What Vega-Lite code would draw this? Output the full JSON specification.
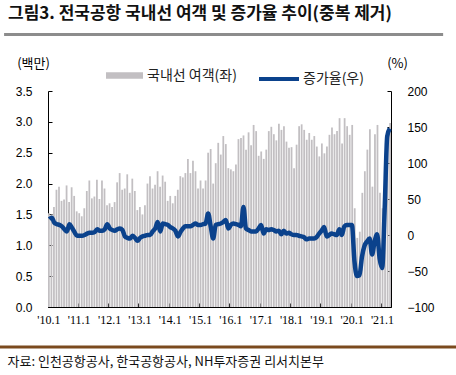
{
  "$schema": "https://vega.github.io/schema/vega-lite/v6.json",
  "width": 343,
  "height": 216,
  "autosize": {"type": "none"},
  "padding": {"left": 48, "top": 91, "right": 65, "bottom": 68},
  "background": "white",
  "title": {
    "text": "그림3. 전국공항 국내선 여객 및 증가율 추이(중복 제거)",
    "anchor": "start",
    "frame": "group",
    "dx": -40,
    "offset": 10,
    "font": "Noto Sans CJK KR",
    "fontSize": 17,
    "fontWeight": "bold",
    "color": "#111111"
  },
  "config": {
    "view": {"stroke": null},
    "axis": {
      "labelFont": "Liberation Sans",
      "labelFontSize": 12,
      "labelColor": "#000000",
      "domainColor": "#000000",
      "tickColor": "#000000",
      "grid": false,
      "titleFont": "Noto Sans CJK KR",
      "titleFontSize": 13,
      "titleFontWeight": "normal",
      "titleColor": "#000000"
    },
    "legend": {
      "labelFont": "Noto Sans CJK KR",
      "labelFontSize": 14,
      "labelColor": "#222222"
    }
  },
  "datasets": {
    "series": [
      {"ym": "2010-01", "pax": 1.52, "growth": 22},
      {"ym": "2010-02", "pax": 1.50, "growth": 24},
      {"ym": "2010-03", "pax": 1.62, "growth": 17},
      {"ym": "2010-04", "pax": 1.90, "growth": 15},
      {"ym": "2010-05", "pax": 1.95, "growth": 14},
      {"ym": "2010-06", "pax": 1.72, "growth": 12},
      {"ym": "2010-07", "pax": 1.74, "growth": 8},
      {"ym": "2010-08", "pax": 1.97, "growth": 5},
      {"ym": "2010-09", "pax": 1.70, "growth": 15},
      {"ym": "2010-10", "pax": 1.94, "growth": 10},
      {"ym": "2010-11", "pax": 1.80, "growth": 4},
      {"ym": "2010-12", "pax": 1.55, "growth": -1},
      {"ym": "2011-01", "pax": 1.52, "growth": -1},
      {"ym": "2011-02", "pax": 1.47, "growth": -1},
      {"ym": "2011-03", "pax": 1.60, "growth": 0},
      {"ym": "2011-04", "pax": 1.88, "growth": 2},
      {"ym": "2011-05", "pax": 2.05, "growth": 3},
      {"ym": "2011-06", "pax": 1.76, "growth": 3},
      {"ym": "2011-07", "pax": 1.79, "growth": 4},
      {"ym": "2011-08", "pax": 2.06, "growth": 8},
      {"ym": "2011-09", "pax": 1.75, "growth": 6},
      {"ym": "2011-10", "pax": 2.05, "growth": 6},
      {"ym": "2011-11", "pax": 1.92, "growth": 8},
      {"ym": "2011-12", "pax": 1.65, "growth": 15},
      {"ym": "2012-01", "pax": 1.68, "growth": 9},
      {"ym": "2012-02", "pax": 1.62, "growth": 7},
      {"ym": "2012-03", "pax": 1.70, "growth": 6},
      {"ym": "2012-04", "pax": 2.02, "growth": 8},
      {"ym": "2012-05", "pax": 2.17, "growth": 9},
      {"ym": "2012-06", "pax": 1.90, "growth": 7},
      {"ym": "2012-07", "pax": 1.92, "growth": -2},
      {"ym": "2012-08", "pax": 2.15, "growth": -4},
      {"ym": "2012-09", "pax": 1.85, "growth": -5},
      {"ym": "2012-10", "pax": 2.08, "growth": -1},
      {"ym": "2012-11", "pax": 1.88, "growth": -4},
      {"ym": "2012-12", "pax": 1.57, "growth": -8},
      {"ym": "2013-01", "pax": 1.62, "growth": -4},
      {"ym": "2013-02", "pax": 1.50, "growth": -2},
      {"ym": "2013-03", "pax": 1.65, "growth": -1},
      {"ym": "2013-04", "pax": 2.00, "growth": 0},
      {"ym": "2013-05", "pax": 2.12, "growth": 0},
      {"ym": "2013-06", "pax": 1.92, "growth": 5},
      {"ym": "2013-07", "pax": 1.98, "growth": 9},
      {"ym": "2013-08", "pax": 2.20, "growth": 18},
      {"ym": "2013-09", "pax": 1.95, "growth": 5},
      {"ym": "2013-10", "pax": 2.13, "growth": 16},
      {"ym": "2013-11", "pax": 2.03, "growth": 15},
      {"ym": "2013-12", "pax": 1.72, "growth": 14},
      {"ym": "2014-01", "pax": 1.80, "growth": 11},
      {"ym": "2014-02", "pax": 1.68, "growth": 9},
      {"ym": "2014-03", "pax": 1.80, "growth": 6},
      {"ym": "2014-04", "pax": 1.90, "growth": -2},
      {"ym": "2014-05", "pax": 2.12, "growth": 4},
      {"ym": "2014-06", "pax": 2.10, "growth": 9},
      {"ym": "2014-07", "pax": 2.17, "growth": 12},
      {"ym": "2014-08", "pax": 2.40, "growth": 12},
      {"ym": "2014-09", "pax": 2.17, "growth": 12},
      {"ym": "2014-10", "pax": 2.37, "growth": 14},
      {"ym": "2014-11", "pax": 2.20, "growth": 16},
      {"ym": "2014-12", "pax": 1.92, "growth": 14},
      {"ym": "2015-01", "pax": 2.05, "growth": 14},
      {"ym": "2015-02", "pax": 1.92, "growth": 15},
      {"ym": "2015-03", "pax": 2.05, "growth": 16},
      {"ym": "2015-04", "pax": 2.50, "growth": 30},
      {"ym": "2015-05", "pax": 2.56, "growth": 12},
      {"ym": "2015-06", "pax": 2.00, "growth": -5},
      {"ym": "2015-07", "pax": 2.33, "growth": 14},
      {"ym": "2015-08", "pax": 2.66, "growth": 15},
      {"ym": "2015-09", "pax": 2.47, "growth": 16},
      {"ym": "2015-10", "pax": 2.77, "growth": 18},
      {"ym": "2015-11", "pax": 2.64, "growth": 21},
      {"ym": "2015-12", "pax": 2.25, "growth": 9},
      {"ym": "2016-01", "pax": 2.23, "growth": 14},
      {"ym": "2016-02", "pax": 2.20, "growth": 16},
      {"ym": "2016-03", "pax": 2.31, "growth": 15},
      {"ym": "2016-04", "pax": 2.72, "growth": 14},
      {"ym": "2016-05", "pax": 2.74, "growth": 12},
      {"ym": "2016-06", "pax": 2.78, "growth": 39},
      {"ym": "2016-07", "pax": 2.55, "growth": 9},
      {"ym": "2016-08", "pax": 2.83, "growth": 7},
      {"ym": "2016-09", "pax": 2.62, "growth": 5},
      {"ym": "2016-10", "pax": 2.95, "growth": 5},
      {"ym": "2016-11", "pax": 2.85, "growth": 5},
      {"ym": "2016-12", "pax": 2.45, "growth": 9},
      {"ym": "2017-01", "pax": 2.52, "growth": 14},
      {"ym": "2017-02", "pax": 2.40, "growth": 2},
      {"ym": "2017-03", "pax": 2.55, "growth": 8},
      {"ym": "2017-04", "pax": 2.85, "growth": 7},
      {"ym": "2017-05", "pax": 2.92, "growth": 8},
      {"ym": "2017-06", "pax": 2.80, "growth": 7},
      {"ym": "2017-07", "pax": 2.70, "growth": 5},
      {"ym": "2017-08", "pax": 2.97, "growth": 6},
      {"ym": "2017-09", "pax": 2.87, "growth": 1},
      {"ym": "2017-10", "pax": 2.93, "growth": 6},
      {"ym": "2017-11", "pax": 2.68, "growth": 2},
      {"ym": "2017-12", "pax": 2.58, "growth": 3},
      {"ym": "2018-01", "pax": 2.59, "growth": 1},
      {"ym": "2018-02", "pax": 2.25, "growth": 0},
      {"ym": "2018-03", "pax": 2.63, "growth": 0},
      {"ym": "2018-04", "pax": 2.93, "growth": -1},
      {"ym": "2018-05", "pax": 2.96, "growth": -2},
      {"ym": "2018-06", "pax": 2.87, "growth": -3},
      {"ym": "2018-07", "pax": 2.71, "growth": -6},
      {"ym": "2018-08", "pax": 2.82, "growth": -5},
      {"ym": "2018-09", "pax": 2.71, "growth": -5},
      {"ym": "2018-10", "pax": 2.77, "growth": -5},
      {"ym": "2018-11", "pax": 2.60, "growth": -3},
      {"ym": "2018-12", "pax": 2.44, "growth": 2},
      {"ym": "2019-01", "pax": 2.65, "growth": 6},
      {"ym": "2019-02", "pax": 2.49, "growth": 11},
      {"ym": "2019-03", "pax": 2.60, "growth": -2},
      {"ym": "2019-04", "pax": 2.79, "growth": 0},
      {"ym": "2019-05", "pax": 2.91, "growth": 2},
      {"ym": "2019-06", "pax": 2.80, "growth": 1},
      {"ym": "2019-07", "pax": 2.85, "growth": 0},
      {"ym": "2019-08", "pax": 3.06, "growth": 8},
      {"ym": "2019-09", "pax": 2.65, "growth": 0},
      {"ym": "2019-10", "pax": 3.06, "growth": 12},
      {"ym": "2019-11", "pax": 2.93, "growth": 14},
      {"ym": "2019-12", "pax": 2.79, "growth": 14},
      {"ym": "2020-01", "pax": 2.95, "growth": 14},
      {"ym": "2020-02", "pax": 1.60, "growth": -36},
      {"ym": "2020-03", "pax": 1.12, "growth": -57},
      {"ym": "2020-04", "pax": 1.22, "growth": -56},
      {"ym": "2020-05", "pax": 1.85, "growth": -30},
      {"ym": "2020-06", "pax": 2.20, "growth": -15},
      {"ym": "2020-07", "pax": 2.55, "growth": -9},
      {"ym": "2020-08", "pax": 2.88, "growth": -5},
      {"ym": "2020-09", "pax": 1.95, "growth": -27},
      {"ym": "2020-10", "pax": 2.80, "growth": -9},
      {"ym": "2020-11", "pax": 2.95, "growth": 1},
      {"ym": "2020-12", "pax": 1.85, "growth": -33},
      {"ym": "2021-01", "pax": 1.60, "growth": -46},
      {"ym": "2021-02", "pax": 2.20, "growth": 37},
      {"ym": "2021-03", "pax": 2.65, "growth": 137},
      {"ym": "2021-04", "pax": 2.98, "growth": 148}
    ],
    "separators": [
      {"line": "title", "level": 4.416, "from": -0.128, "to": 1.152},
      {"line": "footer", "level": -0.649, "from": -0.14, "to": 1.19}
    ]
  },
  "layer": [
    {
      "data": {"name": "series"},
      "mark": {"type": "bar"},
      "encoding": {
        "x": {
          "field": "ym",
          "type": "ordinal",
          "sort": null,
          "scale": {"paddingInner": 0.3, "paddingOuter": 0},
          "axis": {
            "title": "자료: 인천공항공사, 한국공항공사, NH투자증권 리서치본부",
            "titleFont": "Noto Sans CJK KR",
            "titleFontSize": 13,
            "titleColor": "#111111",
            "titleAnchor": "start",
            "titleAlign": "left",
            "titleBaseline": "middle",
            "titleX": -41,
            "titleY": 54,
            "values": ["2010-01","2011-01","2012-01","2013-01","2014-01","2015-01","2016-01","2017-01","2018-01","2019-01","2020-01","2021-01"],
            "labelExpr": "\"'\" + substring(datum.value, 2, 4) + \".1\"",
            "bandPosition": 0,
            "labelAngle": 0,
            "labelAlign": "center",
            "labelFont": "Liberation Sans Narrow",
            "tickSize": -4,
            "labelPadding": 11,
            "domainWidth": 1
          }
        },
        "y": {
          "field": "pax",
          "type": "quantitative",
          "scale": {"domain": [0, 3.5], "nice": false},
          "axis": {
            "title": "(백만)",
            "titleAngle": 0,
            "titleAlign": "center",
            "titleBaseline": "middle",
            "titleX": -15,
            "titleY": -28,
            "values": [0, 0.5, 1, 1.5, 2, 2.5, 3, 3.5],
            "format": ".1f",
            "tickSize": -4,
            "labelPadding": 20
          }
        },
        "fill": {
          "datum": "국내선 여객(좌)",
          "scale": {"range": ["#c2bfc2"]},
          "legend": {
            "title": null,
            "orient": "none",
            "legendX": 58,
            "legendY": -34,
            "symbolType": "M-1,-0.17L1,-0.17L1,0.17L-1,0.17Z",
            "symbolSize": 1369,
            "symbolStrokeWidth": 0
          }
        }
      }
    },
    {
      "data": {"name": "series"},
      "mark": {"type": "line", "strokeWidth": 4.5, "interpolate": "monotone"},
      "encoding": {
        "x": {
          "field": "ym",
          "type": "ordinal",
          "sort": null,
          "scale": {"paddingInner": 0.3, "paddingOuter": 0},
          "axis": null
        },
        "y": {
          "field": "growth",
          "type": "quantitative",
          "scale": {"domain": [-100, 200], "nice": false},
          "axis": {
            "orient": "right",
            "title": "(%)",
            "titleAngle": 0,
            "titleAlign": "center",
            "titleBaseline": "middle",
            "titleX": 6,
            "titleY": -28,
            "values": [-100, -50, 0, 50, 100, 150, 200],
            "tickSize": -4,
            "labelPadding": 20
          }
        },
        "stroke": {
          "datum": "증가율(우)",
          "scale": {"range": ["#0b428c"]},
          "legend": {
            "title": null,
            "orient": "none",
            "legendX": 209,
            "legendY": -34,
            "symbolType": "stroke",
            "symbolSize": 1600,
            "symbolStrokeWidth": 4,
            "labelOffset": 2
          }
        }
      }
    },
    {
      "data": {"name": "separators"},
      "mark": {"type": "rule", "strokeWidth": 3},
      "encoding": {
        "x": {"field": "from", "type": "quantitative", "scale": {"domain": [0, 1], "nice": false, "zero": false}, "axis": null},
        "x2": {"field": "to"},
        "y": {"field": "level", "type": "quantitative", "scale": {"domain": [0, 3.5], "nice": false, "zero": false}, "axis": null},
        "color": {"field": "line", "type": "nominal", "scale": {"domain": ["title", "footer"], "range": ["#8c8c8c", "#7b4a1e"]}, "legend": null}
      }
    }
  ],
  "resolve": {"scale": {"y": "independent", "x": "independent"}}
}
